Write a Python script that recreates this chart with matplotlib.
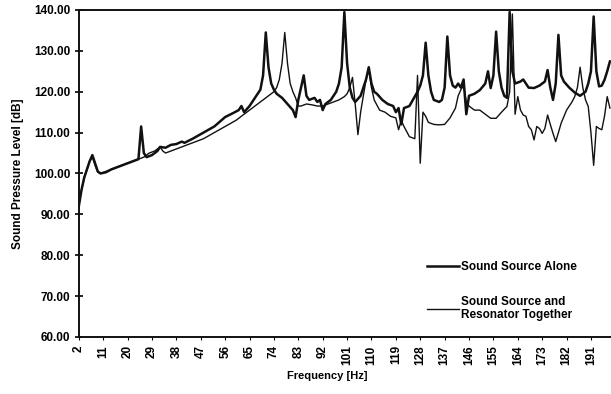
import matplotlib.pyplot as plt
from matplotlib.ticker import FormatStrFormatter

plt.rcParams['font.family'] = ['Liberation Sans', 'DejaVu Sans']
plt.rcParams['font.weight'] = 'bold'

# Sound Source Alone (thick line)
freq_alone = [2, 3, 4, 5, 6, 7, 8, 9, 10, 12, 14, 16, 18, 20, 22, 24, 25, 26, 27, 29,
              31, 32, 34, 36, 38, 40, 41, 44, 48, 52, 56, 59, 61, 62, 63, 65, 67, 69, 70, 71,
              72, 73, 74, 75, 77, 79, 81, 82, 83, 84, 85, 86, 87, 89, 90, 91, 92, 93, 95, 97,
              98, 99, 100, 101, 102, 103, 104, 106, 108, 109, 110, 111, 112, 114, 116, 118, 119, 120, 121, 122,
              124, 126, 127, 128, 129, 130, 131, 132, 133, 135, 136, 137, 138, 139, 140, 141, 142, 143, 144, 145,
              146, 148, 150, 152, 153, 154, 155, 156, 157, 158, 159, 160, 161, 162, 163, 165, 166, 168, 170, 172,
              174, 175, 176, 177, 178, 179, 180, 181, 183, 185, 187, 189, 190, 191, 192, 193, 194, 195, 196, 197,
              198]
spl_alone = [92, 96, 99, 101, 103, 104.5, 102.5, 100.5, 100, 100.3, 101, 101.5, 102, 102.5, 103, 103.5, 111.5, 105, 104, 104.5,
             105.5, 106.5, 106.3, 107, 107.2, 107.8, 107.5, 108.5, 110, 111.5, 113.8, 114.8, 115.5, 116.5, 115, 116.5, 118.5, 120.5, 124, 134.5,
             126, 122, 120.5, 119.5, 118.5, 117, 115.5, 113.8, 118, 121, 124, 119, 118, 118.5, 117.5, 118, 115.5, 117, 118, 120,
             122, 126, 139.5, 127, 121, 118.5, 117.5, 119, 123, 126, 122, 120, 119.5, 118, 117, 116.5, 115, 116, 112, 116,
             116.5, 118.8, 120, 121.5, 124, 132, 124, 120, 118, 117.5, 118, 121, 133.5, 124, 121.5, 121, 122, 121, 123, 114.5,
             119, 119.5, 120.4, 122, 125, 120.9, 124, 134.7, 125, 121, 119, 118.5, 139.5, 125, 122, 122.5, 123, 121, 120.9, 121.5,
             122.5, 125.3, 121, 118, 122, 133.9, 124, 122.5, 121, 119.8, 119, 120, 122, 125, 138.4, 125, 121.3, 121.5, 122.9, 125,
             127.4]

# Sound Source and Resonator Together (thin line)
freq_together = [2, 3, 4, 5, 6, 7, 8, 9, 10, 12, 14, 16, 18, 20, 22, 24, 26, 28, 30, 32,
                 33, 34, 36, 38, 40, 44, 48, 52, 56, 60, 64, 67, 70, 72, 74, 75, 76, 77, 78, 79,
                 80, 81, 82, 83, 84, 86, 88, 90, 92, 94, 96, 98, 100, 101, 102, 103, 104, 105, 106, 107,
                 108, 109, 110, 111, 113, 115, 117, 119, 120, 121, 122, 124, 126, 127, 128, 129, 130, 131, 133, 135,
                 137, 139, 141, 142, 143, 144, 145, 146, 148, 150, 152, 154, 156, 158, 160, 161, 162, 163, 164, 165,
                 166, 167, 168, 169, 170, 171, 172, 173, 174, 175, 176, 177, 178, 179, 180, 182, 184, 185, 186, 187,
                 188, 189, 190, 191, 192, 193, 194, 195, 196, 197, 198]
spl_together = [92.5, 96, 99, 101, 103, 104, 102, 100.3, 100, 100.5, 101, 101.5, 102, 102.5, 103, 103.5, 104, 105, 105.5, 106.5,
                105.5, 105, 105.5, 106, 106.5, 107.5, 108.5, 110, 111.5, 113, 115, 116.5, 118, 119, 120, 121, 123, 127, 134.5, 127,
                122, 120, 118.5, 116.5, 116.5, 117, 116.8, 116.5, 116.5, 117, 117.5, 118, 118.8, 119.5, 121, 123.5, 117, 109.5, 115, 119,
                123, 125.5, 121, 118, 115.5, 115, 114, 113.6, 110.7, 113, 111.5, 109, 108.5, 124, 102.5, 115, 114, 112.5, 112, 111.9,
                112, 113.6, 116, 119, 120.5, 121.5, 117.5, 116.5, 115.5, 115.5, 114.5, 113.5, 113.5, 115, 116.4, 120, 139, 114.5, 118.8, 115.5,
                114.3, 114, 111.5, 110.7, 108.2, 111.5, 111, 109.8, 111, 114.3, 112, 109.8, 107.8, 110, 112.3, 115.5, 117.5, 118.8, 121, 126,
                121, 118, 116.4, 110, 102, 111.5, 111, 110.7, 114, 118.8, 116]

xtick_labels = ['2', '11', '20', '29', '38', '47', '56', '65', '74', '83', '92',
                '101', '110', '119', '128', '137', '146', '155', '164', '173', '182', '191']
xtick_pos = [int(s) for s in xtick_labels]

fig = plt.figure(figsize=(6.11, 3.94), dpi=100)
ax = fig.add_axes([0.129, 0.1447, 0.871, 0.83])

ax.plot(freq_alone, spl_alone, color='#111111', lw=1.8, label='Sound Source Alone')
ax.plot(freq_together, spl_together, color='#111111', lw=1.0,
        label='Sound Source and\nResonator Together')

ax.set_xlim(2, 198.4)
ax.set_ylim(60, 140)
ax.set_yticks(range(60, 141, 10))
ax.yaxis.set_major_formatter(FormatStrFormatter('%.2f'))
ax.set_xticks(xtick_pos)
ax.set_xticklabels(xtick_labels, rotation=90)
ax.tick_params(axis='y', direction='inout', length=6, width=1.2, labelsize=8.5, pad=3)
ax.tick_params(axis='x', direction='out', length=2, width=0.8, labelsize=8.5, pad=4)

ax.spines['right'].set_visible(False)
for s in ['left', 'bottom', 'top']:
    ax.spines[s].set_linewidth(1.4)
    ax.spines[s].set_color('#111111')

ax.set_ylabel('Sound Pressure Level [dB]', fontsize=8.5, fontweight='bold')
ax.yaxis.set_label_coords(-0.103, 0.5)
ax.set_xlabel('Frequency [Hz]', fontsize=8, fontweight='bold')
ax.xaxis.set_label_coords(0.466, -0.105)

ax.legend(loc='upper left', bbox_to_anchor=(0.69, 0.352), bbox_transform=fig.transFigure,
          frameon=False, fontsize=8.5, handlelength=2.7, handletextpad=0.15,
          labelspacing=1.9, borderpad=0)

fig.savefig('out.png', dpi=100)
